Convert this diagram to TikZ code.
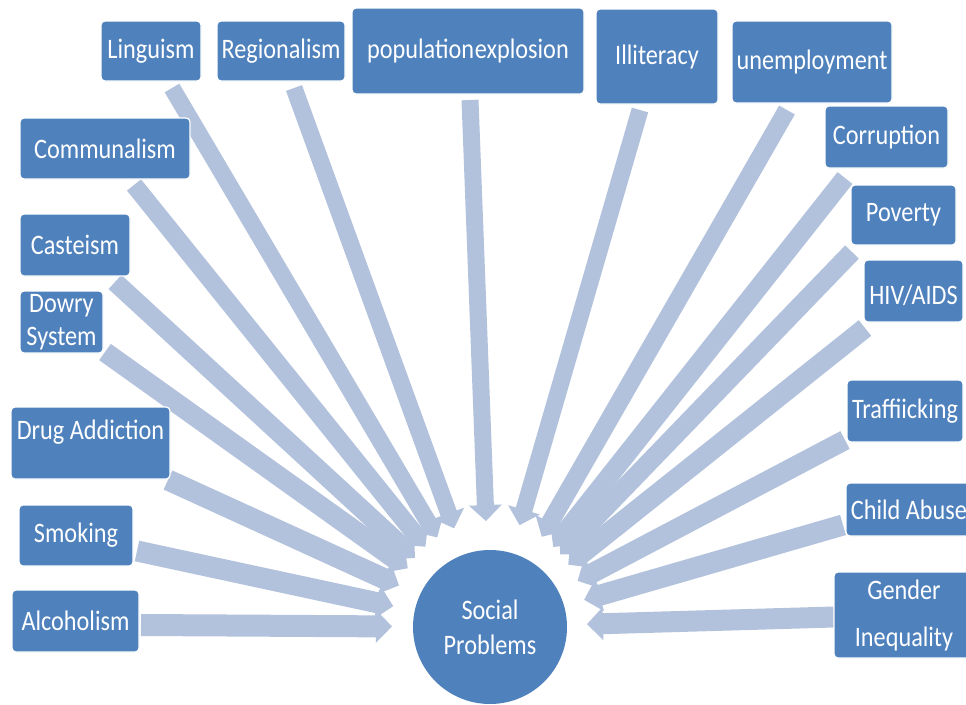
\documentclass[tikz,border=0pt]{standalone}
\usepackage{fontspec}
\setmainfont{Carlito}[FakeStretch=0.86]
\usetikzlibrary{arrows.meta,calc}
\definecolor{boxblue}{HTML}{4F81BD}
\definecolor{arrblue}{HTML}{B3C2DC}
\pgfdeclarelayer{bg}
\pgfsetlayers{bg,main}
\begin{document}
\begin{tikzpicture}[x=1pt,y=-1pt,
  box/.style={rectangle, rounded corners=4pt, fill=boxblue, draw=white, line width=1.2pt,
    text=white, inner sep=0pt, align=center, font=\fontsize{28.2}{33}\selectfont},
  hub/.style={circle, fill=boxblue, draw=none, inner sep=0pt, minimum size=154pt,
    text=white, align=center, font=\fontsize{28.2}{35}\selectfont},
  arr/.style={draw=arrblue, line width=#1, -{Triangle[width=32pt,length=16pt]}},
  arr/.default=18pt]
\useasboundingbox (0,0) rectangle (966,704);

% central hub
\node[hub] (sp) at (490,627) {Social\\Problems};

% top row
\node[box, minimum width=100pt, minimum height=60pt] (ling) at (151,51) {Linguism};
\node[box, minimum width=128pt, minimum height=60pt] (reg) at (281,51) {Regionalism};
\node[box, minimum width=232pt, minimum height=86pt] (pop) at (468,51) {{\spaceskip=0.8pt population explosion}};
\node[box, minimum width=122pt, minimum height=95pt] (ill) at (657,56.5) {Illiteracy};
\node[box, minimum width=160pt, minimum height=82pt] (unemp) at (812,62) {unemployment};
% right column
\node[box, minimum width=123pt, minimum height=62pt] (corr) at (886.5,137) {Corruption};
\node[box, minimum width=105pt, minimum height=60pt] (pov) at (903.5,215) {Poverty};
\node[box, minimum width=99pt, minimum height=62pt, text height=28pt, text depth=1pt] (hiv) at (913.5,291) {HIV/AIDS};
\node[box, minimum width=116pt, minimum height=62pt] (traf) at (905,411) {Traffiicking};
\node[box, minimum width=126pt, minimum height=53pt] (child) at (909,509.5) {Child Abuse};
\node[box, minimum width=140pt, minimum height=86pt] (gender) at (904,615) {Gender\\[14pt]Inequality};
% left column
\node[box, minimum width=170pt, minimum height=61pt] (comm) at (105,148.5) {Communalism};
\node[box, minimum width=110pt, minimum height=62pt] (caste) at (75,245) {Casteism};
\node[box, minimum width=83pt, minimum height=62pt] (dowry) at (61.5,322) {Dowry\\System};
\node[box, minimum width=159pt, minimum height=72pt, text height=10pt, text depth=18pt] (drug) at (90.5,443) {Drug Addiction};
\node[box, minimum width=114pt, minimum height=61pt] (smok) at (76,535.5) {Smoking};
\node[box, minimum width=127pt, minimum height=62pt] (alc) at (75.5,621) {Alcoholism};

% arrow tails
\coordinate (tling) at (172,88);
\coordinate (treg) at (294,88);
\coordinate (tpop) at (470,100);
\coordinate (till) at (640,110);
\coordinate (tunemp) at (787,110);
\coordinate (tcorr) at (845,178);
\coordinate (tpov) at (852,252);
\coordinate (thiv) at (865,328);
\coordinate (ttraf) at (845,440);
\coordinate (tchild) at (843,525);
\coordinate (tgender) at (834,617);
\coordinate (tcomm) at (134,185);
\coordinate (tcaste) at (115,282);
\coordinate (tdowry) at (105,352);
\coordinate (tdrug) at (168,480);
\coordinate (tsmok) at (137,551);
\coordinate (talc) at (141,625);

\begin{pgfonlayer}{bg}
\fill[white] (0,0) rectangle (966,704);
\draw[arr=17pt] (tling) -- ($(sp.center)!104pt!(tling)$);
\draw[arr=17pt] (treg) -- ($(sp.center)!105pt!(treg)$);
\draw[arr=17pt] (tpop) -- ($(sp.center)!106pt!(tpop)$);
\draw[arr=17pt] (till) -- ($(sp.center)!106pt!(till)$);
\draw[arr=18pt] (tunemp) -- ($(sp.center)!104pt!(tunemp)$);
\draw[arr=19pt] (tcorr) -- ($(sp.center)!102pt!(tcorr)$);
\draw[arr=19pt] (tpov) -- ($(sp.center)!101pt!(tpov)$);
\draw[arr=20pt] (thiv) -- ($(sp.center)!100pt!(thiv)$);
\draw[arr=20pt] (ttraf) -- ($(sp.center)!99pt!(ttraf)$);
\draw[arr=21pt] (tchild) -- ($(sp.center)!98pt!(tchild)$);
\draw[arr=21pt] (tgender) -- ($(sp.center)!97pt!(tgender)$);
\draw[arr=18pt] (tcomm) -- ($(sp.center)!103pt!(tcomm)$);
\draw[arr=19pt] (tcaste) -- ($(sp.center)!102pt!(tcaste)$);
\draw[arr=20pt] (tdowry) -- ($(sp.center)!101pt!(tdowry)$);
\draw[arr=21pt] (tdrug) -- ($(sp.center)!100pt!(tdrug)$);
\draw[arr=21pt] (tsmok) -- ($(sp.center)!99pt!(tsmok)$);
\draw[arr=22pt] (talc) -- ($(sp.center)!98pt!(talc)$);
\end{pgfonlayer}
\end{tikzpicture}
\end{document}
